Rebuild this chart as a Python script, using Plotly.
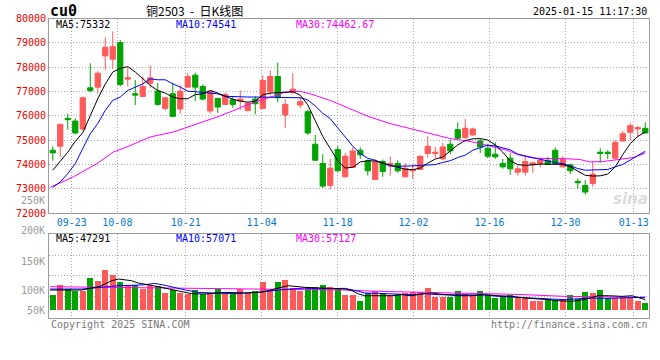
import plotly.graph_objects as go

# ---------------- data ----------------
dates = ["09-18","09-19","09-20","09-23","09-24","09-25","09-26","09-27","09-30",
         "10-08","10-09","10-10","10-11","10-14","10-15","10-16","10-17","10-18","10-21",
         "10-22","10-23","10-24","10-25","10-28","10-29","10-30","10-31",
         "11-01","11-04","11-05","11-06","11-07","11-08","11-11","11-12","11-13","11-14",
         "11-15","11-18","11-19","11-20","11-21","11-22","11-25","11-26","11-27","11-28","11-29",
         "12-02","12-03","12-04","12-05","12-06","12-09","12-10","12-11","12-12","12-13",
         "12-16","12-17","12-18","12-19","12-20","12-23","12-24","12-25","12-26","12-27",
         "12-30","12-31","01-02","01-03","01-06","01-07","01-08","01-09","01-10","01-13",
         "01-14","01-15"]

opens = [74582,74746,75893,75784,75456,77150,77177,78461,78325,79008,77505,76904,76795,77341,
         77013,76303,76904,76276,77177,77669,77205,76194,76713,76467,76658,76603,76221,76685,
         76303,76986,77614,76030,76959,76440,76166,74828,74035,73134,74609,73489,73871,74582,
         74145,73380,74117,73980,74035,73489,73735,73789,74445,74445,74227,74828,75429,75101,
         75210,74964,74664,74418,74035,74254,73680,73680,73980,74035,74172,74582,73899,73980,
         73298,73134,73216,74500,74500,74254,74964,75319,75456,75483]
highs = [74746,75660,76084,75893,76795,78161,77833,79226,79472,79117,77969,77478,77614,78079,
         77341,76768,77369,77259,77751,77778,77287,77041,76740,76959,76795,77041,76576,76795,
         77669,77860,78188,76685,77751,76768,76248,75210,74418,74227,74746,74473,74718,74700,
         74200,74200,74200,74309,74170,74063,74008,74364,75155,74718,74882,75019,75729,75866,
         75511,75046,74855,74910,74227,74473,73953,74309,74090,74227,74309,74691,74336,74035,
         73407,73352,74117,74664,74582,74992,75374,75702,75593,75729]
lows = [74145,74309,75429,75237,75401,76959,76904,77887,77915,77205,77205,76440,76780,77150,
        76412,76221,75948,76084,77150,76603,76631,76084,76112,76440,76330,76248,76166,76057,
        76276,76850,76549,75483,76877,76303,75210,74145,73025,72970,73708,73462,73844,74227,
        73544,73350,73489,73544,73653,73462,73407,73762,74281,74254,74172,74418,75046,75046,
        75183,74473,74254,74227,73817,73571,73544,73544,73653,73871,73980,73980,73871,73598,
        72997,72751,73079,74063,74227,74200,74937,74992,75128,75265]
closes = [74473,75647,75838,75292,76740,77041,77751,78816,78843,77287,77560,76850,77205,77560,
          76467,76740,75975,77013,77614,77177,76685,77013,76358,76877,76467,76685,76521,76494,
          77450,77614,76740,76467,77095,76576,75292,74172,73106,73844,73735,74336,74555,74391,
          73735,74117,73708,74035,73735,73844,73789,74336,74746,74500,74718,74555,75074,75483,
          75456,74718,74336,74309,73899,73817,73817,74117,74063,74172,74008,74035,74200,73735,
          73243,72861,73598,74445,74445,74910,75265,75593,75511,75292]
volumes = [64000,106600,92400,83800,83800,136400,123600,170500,152000,122200,106600,106600,
           89500,106600,103700,75300,88100,72500,68200,88100,68200,75300,92400,72500,68200,
           92400,75300,83800,122200,88100,122200,130700,96600,81000,99500,99500,109400,99500,
           92400,64000,64000,41200,73900,83800,73900,64000,71100,73900,76700,76700,96600,58300,
           58300,58300,83800,71100,64000,83800,64000,54000,61100,64000,58300,54000,41200,38400,
           48300,45500,48300,64000,48300,79600,73900,88100,54000,54000,58300,58300,41200,32700]

ma5 = [73762,74145,74500,74950,75300,76000,76700,77300,77800,77950,78020,77800,77520,77250,
       77040,76930,76770,76700,76700,76870,76900,77040,76930,76800,76680,76600,76560,76600,
       76860,76930,76960,76980,76990,76850,76450,75800,75150,74650,74150,73850,73880,74100,
       74150,74140,74050,73990,73900,73800,73780,73850,74050,74220,74300,74550,74800,74980,
       75050,75060,75000,74800,74500,74150,73990,73960,74000,74010,74010,74010,74000,73900,
       73720,73550,73520,73530,73600,73900,74400,74850,75150,75332]
ma10 = [73050,73280,73620,74030,74650,75260,75680,76220,76630,76770,77040,77180,77310,77520,
        77480,77480,77310,77180,77010,76990,76970,76930,76900,76800,76780,76770,76770,76770,
        76770,76770,76770,76770,76770,76740,76650,76400,76100,75880,75500,75100,74750,74450,
        74250,74170,74040,73930,73920,73920,73940,73960,73980,73990,74080,74150,74280,74380,
        74580,74700,74790,74760,74680,74600,74420,74350,74260,74180,74110,74070,74035,73920,
        73830,73760,73760,73760,73790,73900,74000,74180,74350,74541]
ma30_pos = [-0.36,2.76,5.9,8.1,9.9,13,16.1,18.8,21.9,24,26.3,29,30.8,32.1,33,34.3,37,39.6,
            42.3,45,47.6,50.3,53,55.2,57,58.7,60.5,62.3,64.1,66.3,68,70.3,71.6,73.4,75.6,77.4,79]
ma30 = [73052,73489,74035,74513,74718,75128,75333,75606,75948,76200,76495,76766,76946,77000,
        77000,76905,76631,76290,75946,75676,75471,75266,75061,74964,74855,74718,74582,74377,
        74254,74240,74240,74200,74104,74117,74200,74282,74463]

vma5_pos = [-0.36,3.87,5.2,6.3,7.87,8.76,10.5,11.4,13.2,15,16.8,18.5,20.3,23,25.6,27.9,30.1,
            31.4,33.6,39,39.9,40.8,41.6,43.4,45.2,46.5,47.9,49.2,50.5,52.3,54.1,55.9,57.6,59.4,
            61.2,63,64.7,66.1,67.4,69.2,71,72.7,74.1,75.9,77.2,78.5,79]
vma5 = [88100,88100,96600,103700,127900,135000,127900,117900,108000,96600,85300,72500,71100,
        78200,75300,79600,96600,106600,99500,92400,85300,71100,63900,63900,63900,68200,63900,
        71100,75300,68200,63900,63900,68200,63900,61100,54000,51200,46900,42600,39800,48300,
        63900,63900,61100,63900,54000,47291]
vma10_pos = [-0.36,3.9,7.4,8.76,10.5,12.3,13.6,15,17.7,19.4,23.9,27.4,30.1,31.4,33.6,35.4,39,
             40.8,41.6,43.4,46.1,47.9,49.6,51.4,53.6,55.9,57.6,59.4,61.2,63,64.7,66.5,68.3,
             70.1,71.8,73.6,75.9,77.6,79]
vma10 = [92400,92400,102300,106600,108000,110800,116500,108000,88100,78200,72500,78200,88100,
         92400,96600,93800,95200,82400,75300,73900,71100,68200,72500,68200,68200,68200,66800,
         61100,58300,54000,54000,48300,46900,51200,54000,52600,54000,55400,57071]
vma30_pos = [-0.36,8.76,23,39,43.4,47.9,52.3,57.6,59.8,63,65.7,68.3,71.8,74.6,79]
vma30 = [102300,99500,92400,88100,82400,79600,78200,75300,71100,68200,63900,61100,59700,
         58300,57127]

tick_dates = ["09-23","10-08","10-21","11-04","11-18","12-02","12-16","12-30","01-13"]
price_ticks = [72000,73000,74000,75000,76000,77000,78000,79000,80000]
vol_label_text = ["250K","200K","150K","100K","50K"]
vol_label_ypx = [200.7,230.7,261,290.3,310.3]

# ---------------- style / layout helpers ----------------
W, H = 660, 360
L, R = 49, 649
RED, GREEN = "#ff5a5a", "#00a300"
MONO = "DejaVu Sans Mono"
GRID = "#a8a8a8"
BORDER = "#9c9c9c"


def pxx(x):
    return (x - L) / (R - L)


def pxy(y):
    return 1 - y / H


n = len(dates)
xs = list(range(n))
tickvals = [dates.index(d) * n / (n - 1) - 0.5 for d in tick_dates]
up = [c >= o for o, c in zip(opens, closes)]
vol_colors = [RED if u else GREEN for u in up]

fig = go.Figure()
fig.add_trace(go.Candlestick(
    x=xs, open=opens, high=highs, low=lows, close=closes,
    increasing=dict(line=dict(color=RED, width=1), fillcolor=RED),
    decreasing=dict(line=dict(color=GREEN, width=1), fillcolor=GREEN),
    whiskerwidth=0, xaxis="x", yaxis="y", hoverinfo="skip", showlegend=False))
fig.add_trace(go.Scatter(x=ma30_pos, y=ma30, mode="lines", line=dict(color="#ff00ff", width=1),
                         xaxis="x", yaxis="y", showlegend=False))
fig.add_trace(go.Scatter(x=xs, y=ma10, mode="lines", line=dict(color="#0000ff", width=1),
                         xaxis="x", yaxis="y", showlegend=False))
fig.add_trace(go.Scatter(x=xs, y=ma5, mode="lines", line=dict(color="#000000", width=1),
                         xaxis="x", yaxis="y", showlegend=False))

fig.add_trace(go.Bar(x=xs, y=volumes, marker=dict(color=vol_colors, line=dict(width=0)),
                     width=0.78, xaxis="x2", yaxis="y2", showlegend=False))
fig.add_trace(go.Scatter(x=vma30_pos, y=vma30, mode="lines", line=dict(color="#ff00ff", width=1),
                         xaxis="x2", yaxis="y2", showlegend=False))
fig.add_trace(go.Scatter(x=vma10_pos, y=vma10, mode="lines", line=dict(color="#0000ff", width=1),
                         xaxis="x2", yaxis="y2", showlegend=False))
fig.add_trace(go.Scatter(x=vma5_pos, y=vma5, mode="lines", line=dict(color="#000000", width=1),
                         xaxis="x2", yaxis="y2", showlegend=False))

axis_common = dict(showgrid=True, gridcolor=GRID, griddash="1px,2px", gridwidth=1,
                   showline=True, mirror=True, linecolor=BORDER, linewidth=1,
                   zeroline=False, ticks="", fixedrange=True)

main_dom = [pxy(213), pxy(18.5)]
vol_dom = [pxy(318.3), pxy(234.3)]
vol_px_per = 4263.0
vol_range = [-(318.3 - 310.7) * vol_px_per, (310.7 - 234.3) * vol_px_per]
vol_grid = [(310.7 - y) * vol_px_per for y in (296, 275.5, 255)]

fig.update_layout(
    width=W, height=H,
    margin=dict(l=L, r=W - R, t=0, b=0, autoexpand=False),
    paper_bgcolor="white", plot_bgcolor="white",
    boxgap=0.3, boxgroupgap=0, bargap=0,
    showlegend=False, hovermode=False,
    xaxis=dict(axis_common, domain=[0, 1], range=[-0.5, n - 0.5], anchor="y",
               tickvals=tickvals, ticktext=tick_dates,
               tickfont=dict(family=MONO, size=10, color="#0a78d2"),
               rangeslider=dict(visible=False)),
    yaxis=dict(axis_common, domain=main_dom, range=[72000, 80000], anchor="x",
               tickvals=price_ticks, ticktext=[str(v) for v in price_ticks],
               tickfont=dict(family=MONO, size=10, color="#ee0000")),
    xaxis2=dict(axis_common, domain=[0, 1], range=[-0.5, n - 0.5], anchor="y2",
                tickvals=tickvals, showticklabels=False),
    yaxis2=dict(axis_common, domain=vol_dom, range=vol_range, anchor="x2",
                tickvals=vol_grid, showticklabels=False),
)

ann = []


def text(x, y, s, color="#000", size=10, xanchor="left", family=MONO):
    ann.append(dict(x=pxx(x), y=pxy(y), xref="paper", yref="paper", text=s, showarrow=False,
                    xanchor=xanchor, yanchor="middle",
                    font=dict(family=family, size=size, color=color)))


text(48, 11, "<b>cu0</b>", size=15)
text(194.5, 10.5, "铜2503\u00a0\u00a0-\u00a0\u00a0日K线图", size=12, xanchor="center",
     family="Noto Sans CJK SC")
text(649, 11.5, "2025-01-15 11:17:30", xanchor="right")
text(54, 24.5, "MA5:%d" % ma5[-1], "#000000")
text(174, 24.5, "MA10:%d" % ma10[-1], "#0000ff")
text(294, 24.5, "MA30:74462.67", "#ff00ff")
text(54, 238.5, "MA5:%d" % vma5[-1], "#000000")
text(174, 238.5, "MA10:%d" % vma10[-1], "#0000ff")
text(294, 238.5, "MA30:%d" % vma30[-1], "#ff00ff")
for s, y in zip(vol_label_text, vol_label_ypx):
    text(47, y, s, "#9a9a9a", xanchor="right")
text(49, 324, "Copyright 2025 SINA.COM", "#7a7a7a")
text(650, 324, "http://finance.sina.com.cn", "#7a7a7a", xanchor="right")
text(650, 199, "<b><i>sina</i></b>", "#dcdcdc", size=15, xanchor="right", family="DejaVu Sans")
fig.update_layout(annotations=ann)

fig.write_html("out.html", config={"displayModeBar": False},
               post_script="document.body.style.margin='0px';document.body.style.overflow='hidden';")
